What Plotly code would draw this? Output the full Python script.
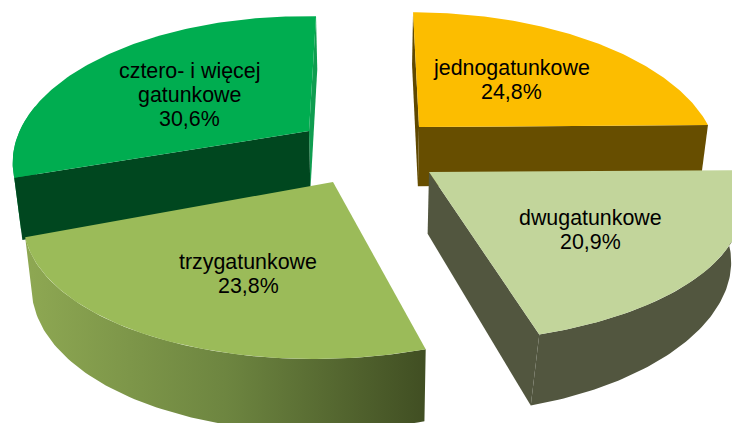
import numpy as np
import plotly.graph_objects as go

# ---- data ----
categories = ["jednogatunkowe", "dwugatunkowe", "trzygatunkowe", "cztero- i więcej gatunkowe"]
values = [24.8, 20.9, 23.8, 30.6]
label_lines = [["jednogatunkowe"], ["dwugatunkowe"], ["trzygatunkowe"], ["cztero- i więcej", "gatunkowe"]]

# ---- styling / layout constants ----
W, H = 732, 423
top_colors = ["#fcbd00", "#c2d59b", "#9bbb59", "#00ad50"]
wall_colors = ["#674e00", "#52563f", "#4f5f2b", "#00471f"]
label_xy = [(511.5, 67.5), (590.7, 217.5), (248, 261.5), (189, 70.5)]
# per-slice projection: apex x, apex y, radius x, radius y, vanishing x, shear, rim shrink of the lower plane
proj = [
    (419, 127, 290, 140, 386, 0, 0),
    (429, 172, 305, 133, 407, 0, 14),
    (333, 182, 300, 138, 370, -4, 0),
    (309, 131, 287, 140, 348, 5, 0),
]
P = 0.22


def top_pt(i, a, r=1.0):
    cx, cy, rx, ry, vx, sk, _ = proj[i]
    X, Y = r * np.sin(a), r * np.cos(a)
    w = 1 + P * Y
    return vx + (cx - vx + rx * X) / w, cy + (sk * X - ry * Y) / w


def low_pt(i, a, r=1.0):
    x, y = top_pt(i, a, r)
    X, Y = r * np.sin(a), r * np.cos(a)
    extra = proj[i][6] * np.abs(X * Y) / (1 + P * Y)
    return 370 + (x - 370) * 0.977 - extra, y + 52 + 0.057 * y


share = np.array(values) / sum(values)
edges = np.concatenate([[0], np.cumsum(share)]) * 2 * np.pi
fig = go.Figure()


def poly(xs, ys, color=None, grad=None):
    kw = dict(x=list(xs), y=list(ys), mode="lines", fill="toself", line=dict(width=0),
              hoverinfo="skip", showlegend=False)
    if grad:
        kw["fillgradient"] = grad
    else:
        kw["fillcolor"] = color
    fig.add_trace(go.Scatter(**kw))


def radial_wall(i, a, color):
    ax, ay = top_pt(i, a, 0.0)
    rx_, ry_ = top_pt(i, a)
    bax, bay = low_pt(i, a, 0.0)
    brx, bry = low_pt(i, a)
    poly([ax, rx_, brx, bax, ax], [ay, ry_, bry, bay, ay], color)


def outer_wall(i, a0, a1, color=None, grad=None):
    t = np.linspace(a0, a1, 80)
    xs, ys = top_pt(i, t)
    bx, by = low_pt(i, t)
    poly(np.r_[xs, bx[::-1], xs[0]], np.r_[ys, by[::-1], ys[0]], color, grad)


def top_face(i):
    t = np.linspace(edges[i], edges[i + 1], 120)
    xs, ys = top_pt(i, t)
    ax, ay = top_pt(i, 0.0, 0.0)
    poly(np.r_[ax, xs, ax], np.r_[ay, ys, ay], top_colors[i])


# back-left slice
i = 3
outer_wall(i, edges[i], edges[i] + 0.5, "#0f9d50")
radial_wall(i, edges[i + 1], "#0f9d50")
radial_wall(i, edges[i], wall_colors[i])
top_face(i)
# back-right slice
i = 0
radial_wall(i, edges[i], "#5f4800")
radial_wall(i, edges[i + 1], wall_colors[i])
top_face(i)
# front-left slice
i = 2
outer_wall(i, edges[i], edges[i + 1],
           grad=dict(type="horizontal", start=32, stop=423,
                     colorscale=[[0, "#8da752"], [0.5, "#6d8540"], [1, "#414f23"]]))
top_face(i)
# front-right slice
i = 1
radial_wall(i, edges[i + 1], wall_colors[i])
outer_wall(i, edges[i], edges[i + 1], wall_colors[i])
top_face(i)

# labels
LINE = 24
for i, v in enumerate(values):
    lines = label_lines[i] + [f"{v:.1f}".replace(".", ",") + "%"]
    lx, ly = label_xy[i]
    for k, s in enumerate(lines):
        fig.add_annotation(x=lx, y=ly + k * LINE, text=s, showarrow=False, xanchor="center", yanchor="middle",
                           font=dict(family="Liberation Sans", size=21.4, color="#000000"))

fig.update_layout(
    width=W, height=H, margin=dict(l=0, r=0, t=0, b=0),
    paper_bgcolor="white", plot_bgcolor="white", showlegend=False,
    xaxis=dict(range=[0, W], visible=False, fixedrange=True),
    yaxis=dict(range=[H, 0], visible=False, fixedrange=True),
)
fig.write_html("out.html", config={"displayModeBar": False},
               post_script="document.body.style.margin='0';document.documentElement.style.overflow='hidden';")
